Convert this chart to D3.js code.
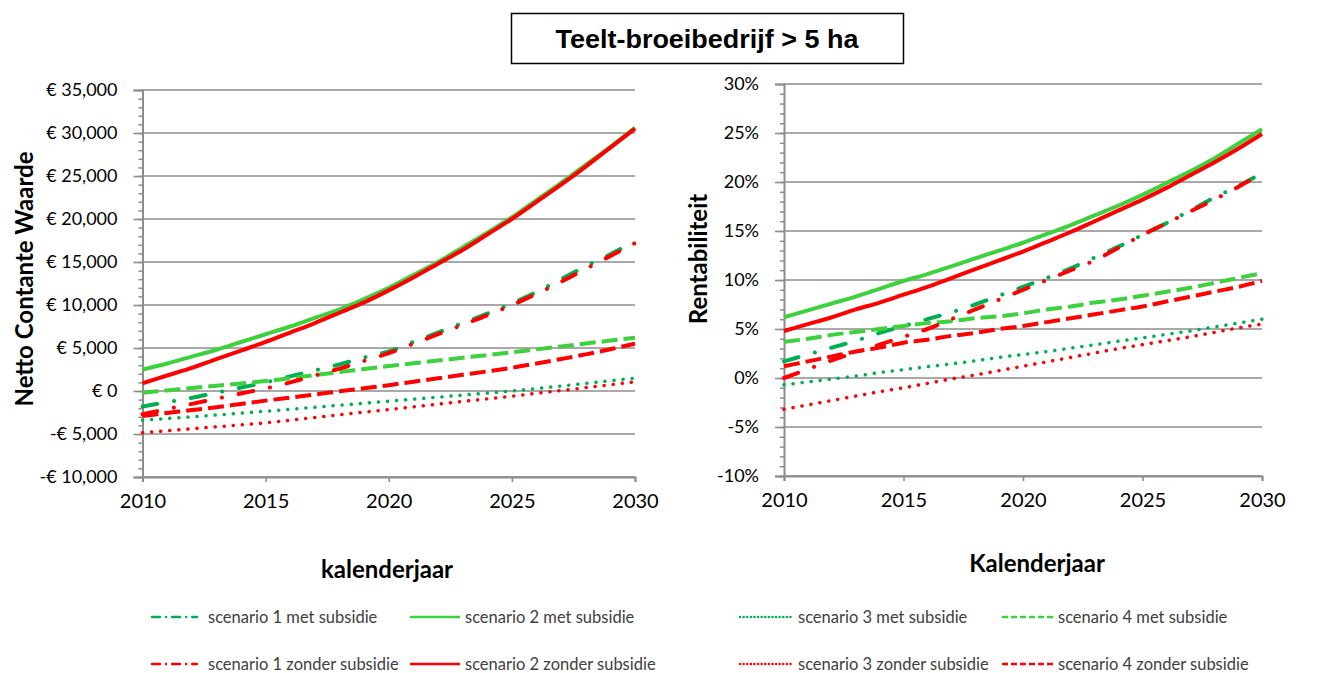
<!DOCTYPE html>
<html>
<head>
  <meta charset="utf-8">
  <title>Teelt-broeibedrijf &gt; 5 ha</title>
  <script src="https://d3js.org/d3.v7.min.js"></script>
  <style>
    html, body { margin: 0; padding: 0; background: #fff; }
    svg { display: block; }
    .tick text { font-family: Lato, "Open Sans", sans-serif; fill: #000; }
  </style>
</head>
<body>
<svg width="1321" height="673"></svg>
<script>
// jaren op de x-as
var years = [2010, 2011, 2012, 2013, 2014, 2015, 2016, 2017, 2018, 2019, 2020,
             2021, 2022, 2023, 2024, 2025, 2026, 2027, 2028, 2029, 2030];
var xTicks = [2010, 2015, 2020, 2025, 2030];

// Netto Contante Waarde (euro)
var ncwS1Met = [-1800, -1300, -800, -200, 400, 1000, 1700, 2400, 3100, 3900, 4600, 5700, 6800, 7900, 9000, 10200, 11500, 13000, 14500, 15900, 17400];
var ncwS2Met = [2500, 3200, 4000, 4800, 5700, 6600, 7500, 8500, 9500, 10700, 12000, 13500, 15000, 16700, 18400, 20200, 22200, 24200, 26300, 28400, 30600];
var ncwS3Met = [-3400, -3200, -3000, -2790, -2570, -2350, -2120, -1890, -1660, -1420, -1180, -950, -720, -480, -240, 0, 290, 580, 880, 1190, 1500];
var ncwS4Met = [-200, 70, 340, 610, 880, 1150, 1500, 1850, 2200, 2550, 2900, 3220, 3540, 3860, 4180, 4500, 4840, 5180, 5520, 5860, 6200];
var ncwS1Zonder = [-2700, -2100, -1500, -900, -300, 300, 1000, 1800, 2600, 3500, 4400, 5500, 6600, 7700, 8800, 10000, 11300, 12700, 14200, 15700, 17200];
var ncwS2Zonder = [900, 1800, 2700, 3700, 4700, 5700, 6800, 7900, 9100, 10300, 11700, 13200, 14800, 16400, 18200, 20000, 22000, 24000, 26100, 28300, 30500];
var ncwS3Zonder = [-4850, -4620, -4390, -4160, -3930, -3700, -3390, -3080, -2770, -2460, -2150, -1840, -1530, -1220, -910, -600, -270, 60, 390, 730, 1070];
var ncwS4Zonder = [-2900, -2560, -2220, -1880, -1500, -1120, -760, -400, -40, 320, 680, 1080, 1480, 1880, 2280, 2700, 3200, 3720, 4260, 4860, 5500];
var ncwTicks = [-10000, -5000, 0, 5000, 10000, 15000, 20000, 25000, 30000, 35000];

// Rentabiliteit (%)
var rentS1Met = [1.7, 2.4, 3.1, 3.8, 4.6, 5.3, 6.0, 6.7, 7.5, 8.4, 9.3, 10.2, 11.2, 12.3, 13.4, 14.6, 15.8, 17.1, 18.4, 19.6, 20.9];
var rentS2Met = [6.2, 6.9, 7.6, 8.3, 9.1, 9.9, 10.6, 11.4, 12.2, 13.0, 13.8, 14.7, 15.6, 16.6, 17.6, 18.7, 19.9, 21.1, 22.4, 23.9, 25.4];
var rentS3Met = [-0.7, -0.4, -0.1, 0.2, 0.55, 0.85, 1.15, 1.45, 1.75, 2.1, 2.4, 2.7, 3.05, 3.4, 3.75, 4.1, 4.45, 4.8, 5.2, 5.6, 6.0];
var rentS4Met = [3.7, 4.0, 4.4, 4.7, 5.0, 5.3, 5.6, 5.8, 6.1, 6.3, 6.6, 7.0, 7.3, 7.7, 8.0, 8.4, 8.8, 9.2, 9.7, 10.2, 10.7];
var rentS1Zonder = [0.0, 0.9, 1.8, 2.6, 3.4, 4.2, 5.0, 6.0, 7.0, 8.0, 9.0, 10.0, 11.0, 12.0, 13.3, 14.6, 15.8, 17.0, 18.2, 19.5, 20.9];
var rentS2Zonder = [4.8, 5.5, 6.2, 7.0, 7.7, 8.5, 9.3, 10.2, 11.1, 12.0, 12.9, 13.9, 14.9, 16.0, 17.1, 18.2, 19.4, 20.7, 22.0, 23.4, 24.9];
var rentS3Zonder = [-3.2, -2.75, -2.3, -1.85, -1.4, -1.0, -0.55, -0.1, 0.3, 0.75, 1.2, 1.65, 2.1, 2.55, 3.0, 3.4, 3.8, 4.2, 4.65, 5.1, 5.5];
var rentS4Zonder = [1.2, 1.7, 2.2, 2.7, 3.1, 3.6, 3.9, 4.3, 4.6, 5.0, 5.3, 5.7, 6.1, 6.5, 6.9, 7.3, 7.8, 8.3, 8.8, 9.3, 9.9];
var rentTicks = [-10, -5, 0, 5, 10, 15, 20, 25, 30];

var seriesNames = ["scenario 1 met subsidie", "scenario 2 met subsidie", "scenario 3 met subsidie", "scenario 4 met subsidie",
                   "scenario 1 zonder subsidie", "scenario 2 zonder subsidie", "scenario 3 zonder subsidie", "scenario 4 zonder subsidie"];

var darkGreen = "#00b050", lightGreen = "#3dd13d", red = "#ff0000";
var style = {
  "scenario 1 met subsidie":    {color: darkGreen,  dash: "15,17,0.1,17", w: 4,   lg: "8,6,0.1,6"},
  "scenario 2 met subsidie":    {color: lightGreen, dash: null,           w: 4,   lg: null},
  "scenario 3 met subsidie":    {color: darkGreen,  dash: "0.1,9",        w: 3.5, lg: "0.1,3.5"},
  "scenario 4 met subsidie":    {color: lightGreen, dash: "16,6",         w: 4,   lg: "6,3"},
  "scenario 1 zonder subsidie": {color: red,        dash: "15,17,0.1,17", w: 4,   lg: "8,6,0.1,6"},
  "scenario 2 zonder subsidie": {color: red,        dash: null,           w: 4,   lg: null},
  "scenario 3 zonder subsidie": {color: red,        dash: "0.1,9",        w: 3.5, lg: "0.1,3.5"},
  "scenario 4 zonder subsidie": {color: red,        dash: "16,6",         w: 4,   lg: "6,3"}
};

var svg = d3.select("svg");
var gridColor = "#8c8c8c";

// titel in kader
svg.append("rect")
    .attr("x", 511.5).attr("y", 13.5).attr("width", 392).attr("height", 50)
    .attr("fill", "#fff").attr("stroke", "#000").attr("stroke-width", 1.5);
svg.append("text")
    .attr("x", 707).attr("y", 48)
    .attr("text-anchor", "middle")
    .attr("font-family", "'Liberation Sans', Arial, sans-serif")
    .attr("font-weight", "bold")
    .attr("font-size", 26)
    .attr("textLength", 303)
    .attr("lengthAdjust", "spacingAndGlyphs")
    .text("Teelt-broeibedrijf > 5 ha");

function drawPanel(opts) {
  var x = d3.scaleLinear().domain([2010, 2030]).range(opts.xRange);
  var y = d3.scaleLinear().domain(opts.yDomain).range(opts.yRange);
  var g = svg.append("g");

  // horizontale rasterlijnen
  g.append("g").selectAll("line")
    .data(opts.ticks)
    .enter().append("line")
      .attr("x1", opts.xRange[0]).attr("x2", opts.xRange[1])
      .attr("y1", function(d) { return y(d); })
      .attr("y2", function(d) { return y(d); })
      .attr("stroke", gridColor).attr("stroke-width", 1.6);

  // kleine streepjes op de y-as
  var minor = d3.range(opts.yDomain[0], opts.yDomain[1] + opts.minorStep / 2, opts.minorStep);
  g.append("g")
      .attr("transform", "translate(" + opts.xRange[0] + ",0)")
      .call(d3.axisLeft(y).tickValues(minor).tickSize(4).tickFormat(""))
      .call(function(a) { a.select(".domain").remove(); a.selectAll("line").attr("stroke", gridColor).attr("stroke-width", 1.5); });

  // y-as
  g.append("g")
      .attr("transform", "translate(" + opts.xRange[0] + ",0)")
      .call(d3.axisLeft(y).tickValues(opts.ticks).tickSize(9).tickPadding(opts.yPad).tickFormat(opts.fmt))
      .call(function(a) {
        a.select(".domain").attr("stroke", gridColor).attr("stroke-width", 2);
        a.selectAll("line").attr("stroke", gridColor).attr("stroke-width", 1.6);
        a.selectAll("text").attr("font-size", opts.yFont);
      });

  // x-as
  g.append("g")
      .attr("transform", "translate(0," + opts.yRange[0] + ")")
      .call(d3.axisBottom(x).tickValues(xTicks).tickSize(5).tickPadding(12).tickFormat(d3.format("d")))
      .call(function(a) {
        a.select(".domain").attr("stroke", gridColor).attr("stroke-width", 2);
        a.selectAll("line").attr("stroke", gridColor).attr("stroke-width", 1.6);
        a.selectAll("text").attr("font-size", 20);
      });

  // lijnen
  var line = d3.line()
      .x(function(d, i) { return x(years[i]); })
      .y(function(d) { return y(d); })
      .curve(d3.curveMonotoneX);

  opts.series.forEach(function(values, k) {
    var s = style[seriesNames[k]];
    g.append("path")
        .datum(values)
        .attr("fill", "none")
        .attr("stroke", s.color)
        .attr("stroke-width", s.w)
        .attr("stroke-linecap", s.dash && s.dash.indexOf("0.1") >= 0 ? "round" : "butt")
        .attr("stroke-dasharray", s.dash)
        .attr("d", line);
  });

  // as-titels
  svg.append("text")
      .attr("transform", "translate(" + opts.yTitlePos[0] + "," + opts.yTitlePos[1] + ") rotate(-90)")
      .attr("text-anchor", "middle")
      .attr("dominant-baseline", "central")
      .attr("font-family", "Lato, sans-serif")
      .attr("font-weight", "bold")
      .attr("font-size", 24)
      .text(opts.yTitle);
  svg.append("text")
      .attr("x", opts.xTitlePos[0]).attr("y", opts.xTitlePos[1])
      .attr("text-anchor", "middle")
      .attr("dominant-baseline", "central")
      .attr("font-family", "Lato, sans-serif")
      .attr("font-weight", "bold")
      .attr("font-size", 24)
      .text(opts.xTitle);
}

var euro = function(d) {
  return (d < 0 ? "-" : "") + "€ " + d3.format(",")(Math.abs(d));
};

drawPanel({
  xRange: [142.5, 635],
  yDomain: [-10000, 35000],
  yRange: [477, 90],
  ticks: ncwTicks,
  minorStep: 1000,
  fmt: euro,
  yPad: 16,
  yFont: 18,
  series: [ncwS1Met, ncwS2Met, ncwS3Met, ncwS4Met, ncwS1Zonder, ncwS2Zonder, ncwS3Zonder, ncwS4Zonder],
  yTitle: "Netto Contante Waarde",
  yTitlePos: [23, 279],
  xTitle: "kalenderjaar",
  xTitlePos: [387, 568]
});

drawPanel({
  xRange: [784, 1262],
  yDomain: [-10, 30],
  yRange: [476, 84],
  ticks: rentTicks,
  minorStep: 1,
  fmt: function(d) { return d + "%"; },
  yPad: 16,
  yFont: 18,
  series: [rentS1Met, rentS2Met, rentS3Met, rentS4Met, rentS1Zonder, rentS2Zonder, rentS3Zonder, rentS4Zonder],
  yTitle: "Rentabiliteit",
  yTitlePos: [697, 259],
  xTitle: "Kalenderjaar",
  xTitlePos: [1037, 562]
});

// legenda
var legendX = [{x1: 152, x2: 197, tx: 208}, {x1: 410, x2: 460, tx: 465},
               {x1: 740, x2: 792, tx: 798}, {x1: 1002, x2: 1053, tx: 1058}];
var legendY = [617, 664];

var legend = svg.append("g")
    .selectAll("g")
    .data(seriesNames)
    .enter().append("g")
      .attr("transform", function(d, i) { return "translate(0," + legendY[Math.floor(i / 4)] + ")"; });

legend.append("line")
    .attr("x1", function(d, i) { return legendX[i % 4].x1; })
    .attr("x2", function(d, i) { return legendX[i % 4].x2; })
    .attr("stroke", function(d) { return style[d].color; })
    .attr("stroke-width", 2.5)
    .attr("stroke-linecap", function(d) { return style[d].lg && style[d].lg.indexOf("0.1") >= 0 ? "round" : "butt"; })
    .attr("stroke-dasharray", function(d) { return style[d].lg; });

legend.append("text")
    .attr("x", function(d, i) { return legendX[i % 4].tx; })
    .attr("dy", "0.35em")
    .attr("font-family", "Lato, sans-serif")
    .attr("font-size", 16.5)
    .attr("fill", "#404040")
    .text(function(d) { return d; });
</script>
</body>
</html>
